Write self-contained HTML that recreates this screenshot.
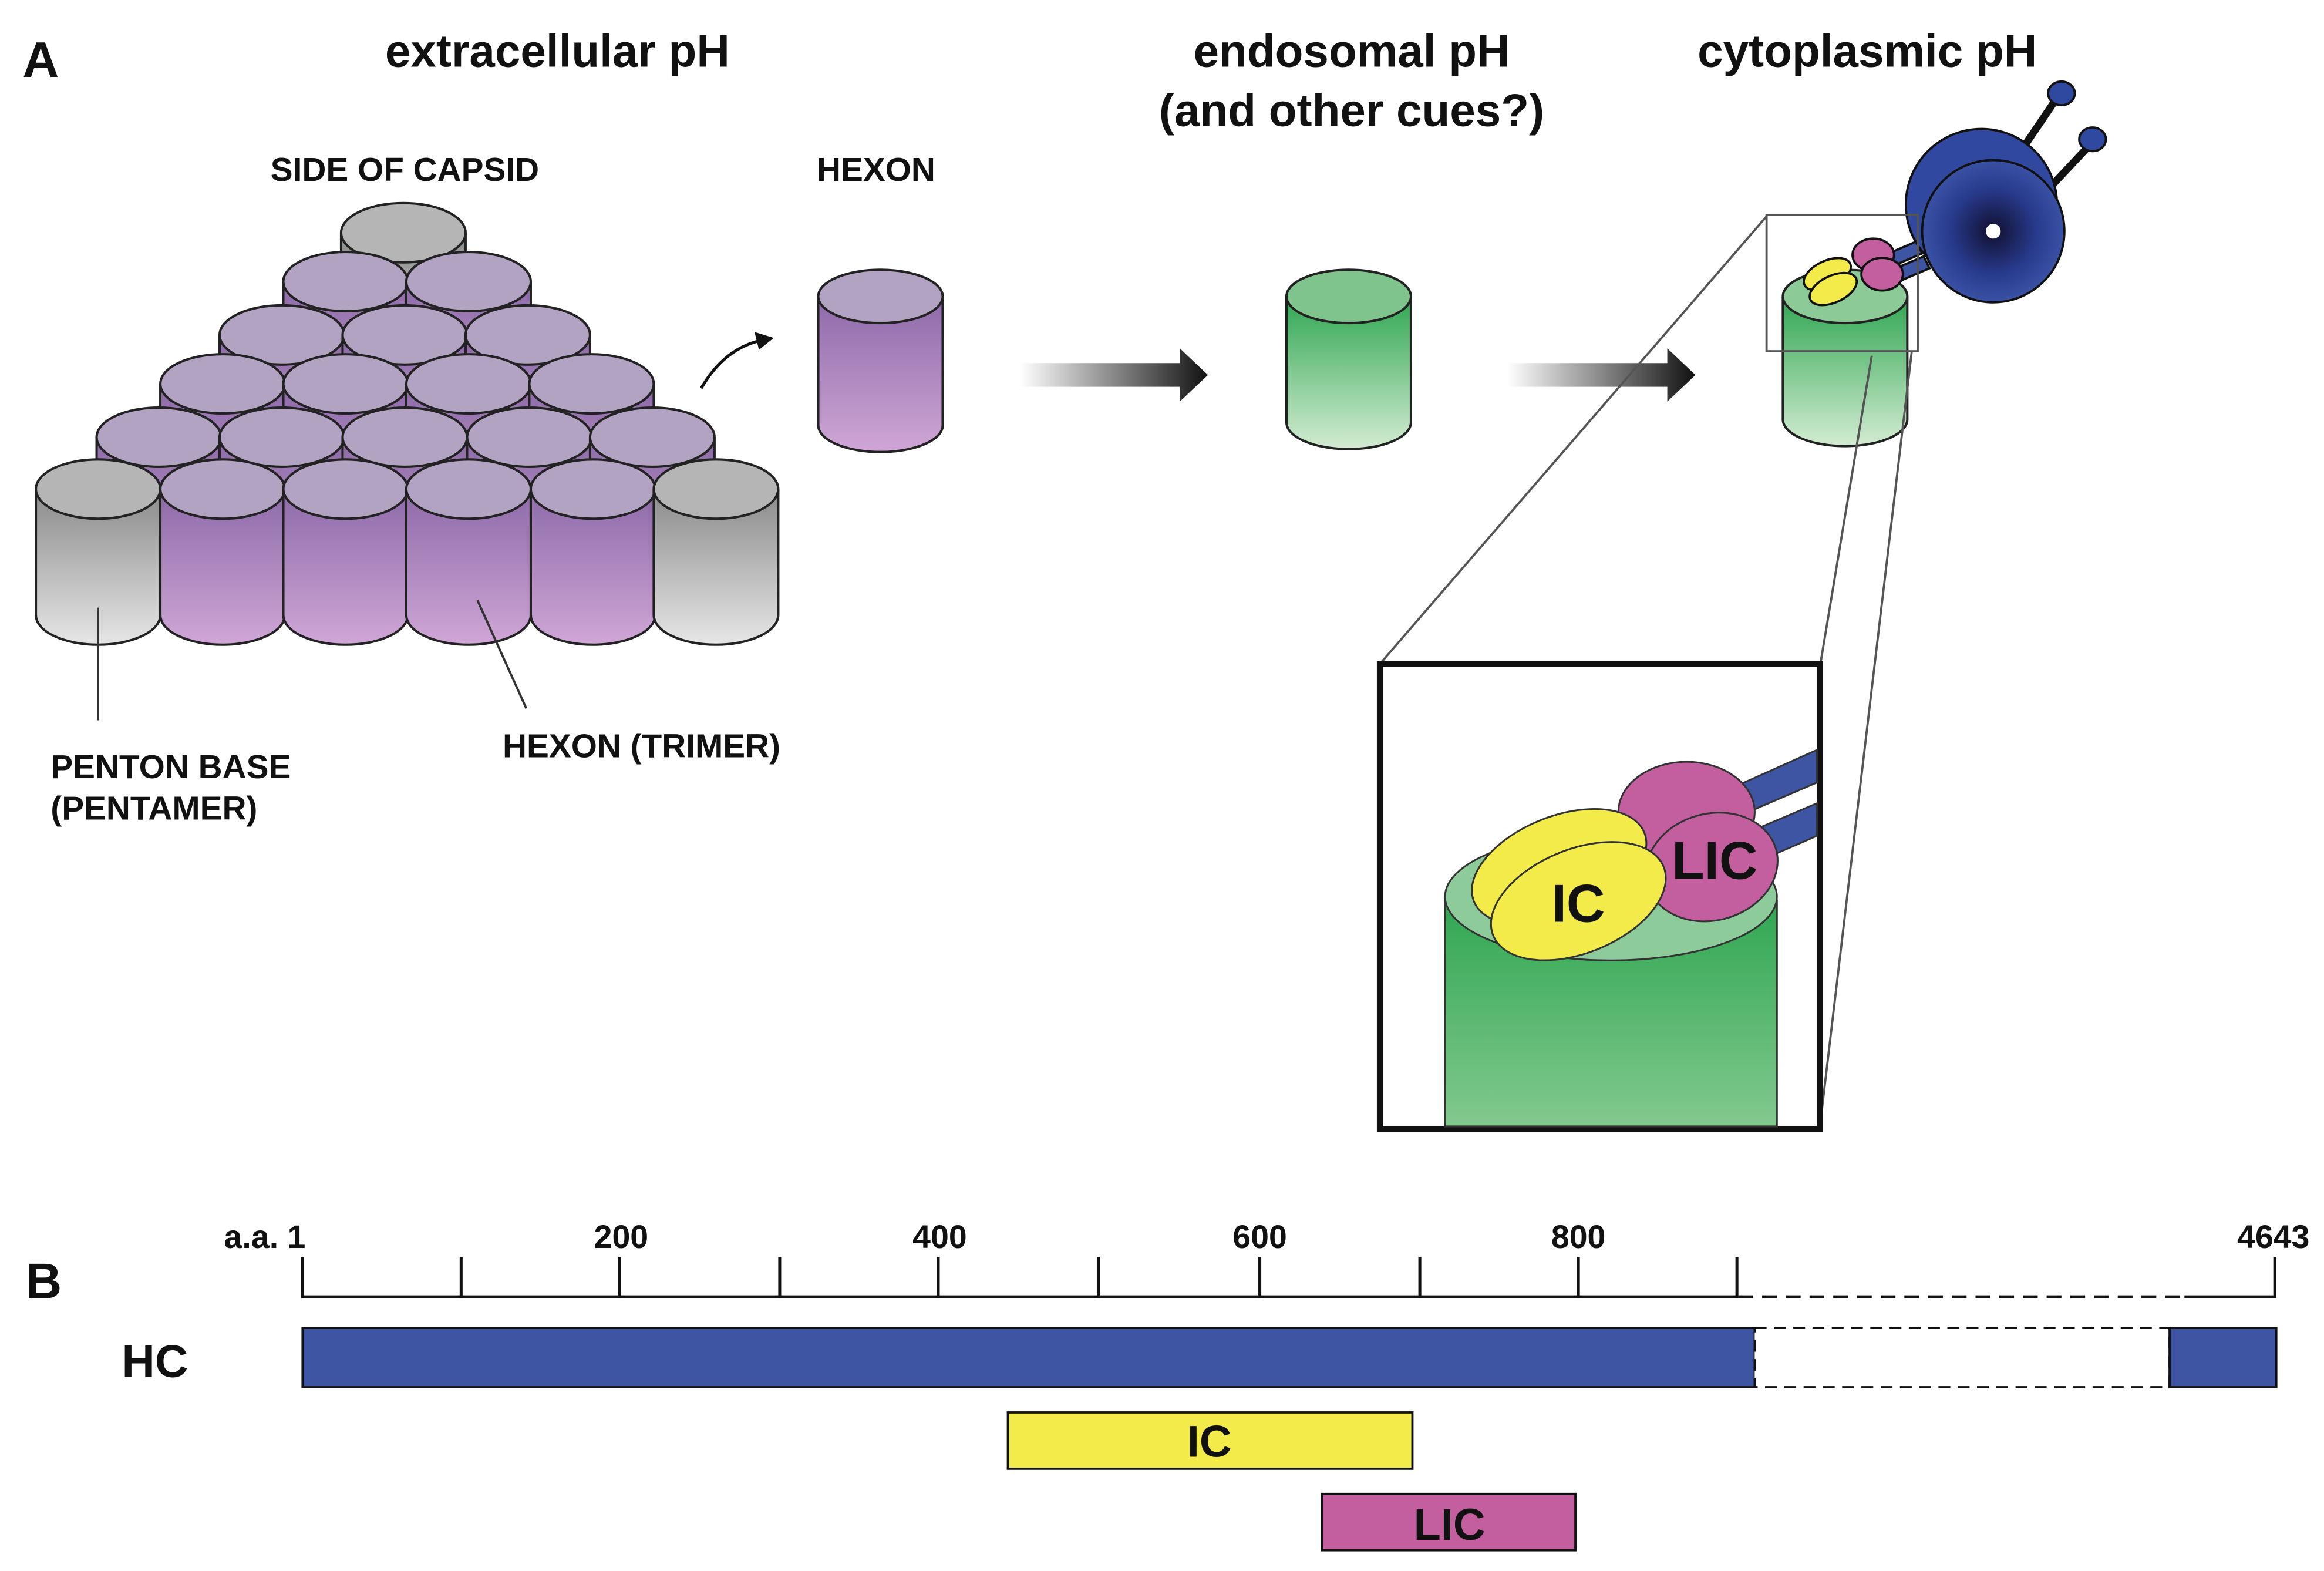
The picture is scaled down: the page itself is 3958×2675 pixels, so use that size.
<!DOCTYPE html>
<html><head><meta charset="utf-8"><style>
html,body{margin:0;padding:0;background:#fff}
svg{display:block}
text{font-family:"Liberation Sans",Arial,sans-serif;font-weight:bold;fill:#111}
</style></head><body>
<svg width="3958" height="2675" viewBox="0 0 1568 1060" xmlns="http://www.w3.org/2000/svg">
<defs>
<linearGradient id="pur" x1="0" y1="0" x2="0" y2="1"><stop offset="0" stop-color="#8c6aa8"/><stop offset="1" stop-color="#cfa6d6"/></linearGradient>
<linearGradient id="gry" x1="0" y1="0" x2="0" y2="1"><stop offset="0" stop-color="#8a8a8a"/><stop offset="1" stop-color="#e6e6e6"/></linearGradient>
<linearGradient id="grn" x1="0" y1="0" x2="0" y2="1"><stop offset="0" stop-color="#2fa651"/><stop offset="1" stop-color="#d3ecd2"/></linearGradient>
<linearGradient id="grn2" x1="0" y1="0" x2="0" y2="1"><stop offset="0" stop-color="#2fa651"/><stop offset="1" stop-color="#82c98e"/></linearGradient>
<linearGradient id="arr" x1="0" y1="0" x2="1" y2="0"><stop offset="0" stop-color="#fff"/><stop offset="1" stop-color="#111"/></linearGradient>
<radialGradient id="dyn" cx="0.5" cy="0.5" r="0.5"><stop offset="0" stop-color="#111030"/><stop offset="0.6" stop-color="#283a8c"/><stop offset="1" stop-color="#3a52a4"/></radialGradient>
</defs>
<text x="15" y="52" font-size="34">A</text>
<text x="376" y="45" font-size="31" text-anchor="middle">extracellular pH</text>
<text x="912" y="45" font-size="31" text-anchor="middle">endosomal pH</text>
<text x="912" y="85" font-size="31" text-anchor="middle">(and other cues?)</text>
<text x="1260" y="45" font-size="31" text-anchor="middle">cytoplasmic pH</text>
<text x="273" y="122" font-size="22.5" text-anchor="middle">SIDE OF CAPSID</text>
<text x="591" y="122" font-size="22.5" text-anchor="middle">HEXON</text>
<g stroke="#222" stroke-width="1.6">
<path d="M230 157 v85 a42 20 0 0 0 84 0 v-85" fill="url(#gry)"/><ellipse cx="272" cy="157" rx="42" ry="20" fill="#b5b5b5"/>
<path d="M191 190 v85 a42 20 0 0 0 84 0 v-85" fill="url(#pur)"/><ellipse cx="233" cy="190" rx="42" ry="20" fill="#b3a3c3"/>
<path d="M274 190 v85 a42 20 0 0 0 84 0 v-85" fill="url(#pur)"/><ellipse cx="316" cy="190" rx="42" ry="20" fill="#b3a3c3"/>
<path d="M148 226 v85 a42 20 0 0 0 84 0 v-85" fill="url(#pur)"/><ellipse cx="190" cy="226" rx="42" ry="20" fill="#b3a3c3"/>
<path d="M231 226 v85 a42 20 0 0 0 84 0 v-85" fill="url(#pur)"/><ellipse cx="273" cy="226" rx="42" ry="20" fill="#b3a3c3"/>
<path d="M314 226 v85 a42 20 0 0 0 84 0 v-85" fill="url(#pur)"/><ellipse cx="356" cy="226" rx="42" ry="20" fill="#b3a3c3"/>
<path d="M108 259 v85 a42 20 0 0 0 84 0 v-85" fill="url(#pur)"/><ellipse cx="150" cy="259" rx="42" ry="20" fill="#b3a3c3"/>
<path d="M191 259 v85 a42 20 0 0 0 84 0 v-85" fill="url(#pur)"/><ellipse cx="233" cy="259" rx="42" ry="20" fill="#b3a3c3"/>
<path d="M274 259 v85 a42 20 0 0 0 84 0 v-85" fill="url(#pur)"/><ellipse cx="316" cy="259" rx="42" ry="20" fill="#b3a3c3"/>
<path d="M357 259 v85 a42 20 0 0 0 84 0 v-85" fill="url(#pur)"/><ellipse cx="399" cy="259" rx="42" ry="20" fill="#b3a3c3"/>
<path d="M65 295 v85 a42 20 0 0 0 84 0 v-85" fill="url(#pur)"/><ellipse cx="107" cy="295" rx="42" ry="20" fill="#b3a3c3"/>
<path d="M148 295 v85 a42 20 0 0 0 84 0 v-85" fill="url(#pur)"/><ellipse cx="190" cy="295" rx="42" ry="20" fill="#b3a3c3"/>
<path d="M231 295 v85 a42 20 0 0 0 84 0 v-85" fill="url(#pur)"/><ellipse cx="273" cy="295" rx="42" ry="20" fill="#b3a3c3"/>
<path d="M315 295 v85 a42 20 0 0 0 84 0 v-85" fill="url(#pur)"/><ellipse cx="357" cy="295" rx="42" ry="20" fill="#b3a3c3"/>
<path d="M398 295 v85 a42 20 0 0 0 84 0 v-85" fill="url(#pur)"/><ellipse cx="440" cy="295" rx="42" ry="20" fill="#b3a3c3"/>
<path d="M24 330 v85 a42 20 0 0 0 84 0 v-85" fill="url(#gry)"/><ellipse cx="66" cy="330" rx="42" ry="20" fill="#b5b5b5"/>
<path d="M108 330 v85 a42 20 0 0 0 84 0 v-85" fill="url(#pur)"/><ellipse cx="150" cy="330" rx="42" ry="20" fill="#b3a3c3"/>
<path d="M191 330 v85 a42 20 0 0 0 84 0 v-85" fill="url(#pur)"/><ellipse cx="233" cy="330" rx="42" ry="20" fill="#b3a3c3"/>
<path d="M274 330 v85 a42 20 0 0 0 84 0 v-85" fill="url(#pur)"/><ellipse cx="316" cy="330" rx="42" ry="20" fill="#b3a3c3"/>
<path d="M358 330 v85 a42 20 0 0 0 84 0 v-85" fill="url(#pur)"/><ellipse cx="400" cy="330" rx="42" ry="20" fill="#b3a3c3"/>
<path d="M441 330 v85 a42 20 0 0 0 84 0 v-85" fill="url(#gry)"/><ellipse cx="483" cy="330" rx="42" ry="20" fill="#b5b5b5"/>
<path d="M552 200 v87 a42 18 0 0 0 84 0 v-87" fill="url(#pur)"/><ellipse cx="594" cy="200" rx="42" ry="18" fill="#b3a3c3"/>
<path d="M868 200 v85 a42 18 0 0 0 84 0 v-85" fill="url(#grn)"/><ellipse cx="910" cy="200" rx="42" ry="18" fill="#7fc48d"/>
<path d="M1203 200 v83 a42 18 0 0 0 84 0 v-83" fill="url(#grn)"/><ellipse cx="1245" cy="200" rx="42" ry="18" fill="#8ccb98"/>
</g>
<line x1="66" y1="410" x2="66" y2="486" stroke="#333" stroke-width="1.5"/>
<line x1="322" y1="405" x2="355" y2="478" stroke="#333" stroke-width="1.5"/>
<text x="34" y="525" font-size="22.5">PENTON BASE</text>
<text x="34" y="553" font-size="22.5">(PENTAMER)</text>
<text x="339" y="511" font-size="22.5">HEXON (TRIMER)</text>
<path d="M473 262 Q488 236 512 230" fill="none" stroke="#111" stroke-width="2"/>
<path d="M522 228 l-13 -4 l3 12 z" fill="#111"/>
<path d="M688 245 h108 v-10 l19 18 l-19 18 v-10 h-108 z" fill="url(#arr)"/>
<path d="M1017 245 h108 v-10 l19 18 l-19 18 v-10 h-108 z" fill="url(#arr)"/>
<g stroke="#111" stroke-width="1.5">
<line x1="1365" y1="100" x2="1388" y2="66" stroke-width="5"/>
<line x1="1380" y1="130" x2="1410" y2="98" stroke-width="5"/>
<ellipse cx="1391" cy="63" rx="9" ry="8" fill="#2f48a0"/>
<ellipse cx="1412" cy="94" rx="9" ry="8" fill="#2f48a0"/>
<path d="M1265 175 l28 -12 l4 8 l-28 12 z" fill="#3d55a3"/>
<path d="M1270 185 l28 -12 l4 8 l-28 12 z" fill="#3d55a3"/>
<circle cx="1337" cy="138" r="51" fill="#3148a0"/>
<circle cx="1345" cy="156" r="48" fill="url(#dyn)"/>
<circle cx="1345" cy="156" r="5" fill="#fff" stroke="none"/>
<ellipse cx="1264" cy="172" rx="14" ry="11" fill="#c45f9f"/>
<ellipse cx="1270" cy="185" rx="14" ry="11" fill="#c45f9f"/>
<ellipse cx="1233" cy="185" rx="17" ry="9" transform="rotate(-25 1233 185)" fill="#f2eb4a"/>
<ellipse cx="1237" cy="195" rx="17" ry="9" transform="rotate(-25 1237 195)" fill="#f2eb4a"/>
</g>
<rect x="1192" y="145" width="102" height="92" fill="none" stroke="#555" stroke-width="1.5"/>
<line x1="931" y1="448" x2="1192" y2="146" stroke="#555" stroke-width="1.5"/>
<line x1="1228" y1="450" x2="1263" y2="240" stroke="#555" stroke-width="1.5"/>
<line x1="1228" y1="760" x2="1290" y2="237" stroke="#555" stroke-width="1.5"/>
<rect x="931" y="448" width="297" height="314" fill="#fff" stroke="#111" stroke-width="4"/>
<g stroke="#333" stroke-width="1.2">
<path d="M975 607 V760 H1199 V607" fill="url(#grn2)"/>
<ellipse cx="1087" cy="605" rx="112" ry="43" fill="#8ecb9a"/>
<path d="M1150 540 l76 -34 v22 l-70 30 z" fill="#3d55a3"/>
<path d="M1160 570 l66 -28 v22 l-60 26 z" fill="#3d55a3"/>
<ellipse cx="1138" cy="548" rx="46" ry="34" fill="#c45f9f"/>
<ellipse cx="1155" cy="585" rx="45" ry="36" transform="rotate(-15 1155 585)" fill="#c45f9f"/>
<ellipse cx="1052" cy="585" rx="62" ry="34" transform="rotate(-22 1052 585)" fill="#f2eb4a"/>
<ellipse cx="1065" cy="608" rx="62" ry="35" transform="rotate(-22 1065 608)" fill="#f2eb4a"/>
</g>
<text x="1065" y="622" font-size="36" text-anchor="middle">IC</text>
<text x="1157" y="593" font-size="36" text-anchor="middle">LIC</text>
<text x="17" y="876" font-size="34">B</text>
<text x="151" y="842" font-size="22">a.a. 1</text>
<text x="419" y="842" font-size="22" text-anchor="middle">200</text>
<text x="634" y="842" font-size="22" text-anchor="middle">400</text>
<text x="850" y="842" font-size="22" text-anchor="middle">600</text>
<text x="1065" y="842" font-size="22" text-anchor="middle">800</text>
<text x="1534" y="842" font-size="22" text-anchor="middle">4643</text>
<g stroke="#111" stroke-width="2">
<line x1="204" y1="875" x2="1173" y2="875"/>
<line x1="1173" y1="875" x2="1474" y2="875" stroke-dasharray="10 6"/>
<line x1="1474" y1="875" x2="1535" y2="875"/>
<line x1="204" y1="848" x2="204" y2="876"/><line x1="311" y1="848" x2="311" y2="876"/>
<line x1="418" y1="848" x2="418" y2="876"/><line x1="526" y1="848" x2="526" y2="876"/>
<line x1="633" y1="848" x2="633" y2="876"/><line x1="741" y1="848" x2="741" y2="876"/>
<line x1="850" y1="848" x2="850" y2="876"/><line x1="958" y1="848" x2="958" y2="876"/>
<line x1="1065" y1="848" x2="1065" y2="876"/><line x1="1172" y1="848" x2="1172" y2="876"/>
<line x1="1535" y1="848" x2="1535" y2="876"/>
</g>
<text x="82" y="929" font-size="31">HC</text>
<rect x="204" y="896" width="980" height="40" fill="#3d55a3" stroke="#111" stroke-width="1.5"/>
<rect x="1184" y="896" width="280" height="40" fill="#fff" stroke="#111" stroke-width="1.5" stroke-dasharray="8 5"/>
<rect x="1464" y="896" width="72" height="40" fill="#3d55a3" stroke="#111" stroke-width="1.5"/>
<rect x="680" y="953" width="273" height="38" fill="#f2eb4a" stroke="#111" stroke-width="1.5"/>
<text x="816" y="983" font-size="30" text-anchor="middle">IC</text>
<rect x="892" y="1008" width="171" height="38" fill="#c45f9f" stroke="#111" stroke-width="1.5"/>
<text x="978" y="1039" font-size="30" text-anchor="middle">LIC</text>
</svg>
</body></html>
